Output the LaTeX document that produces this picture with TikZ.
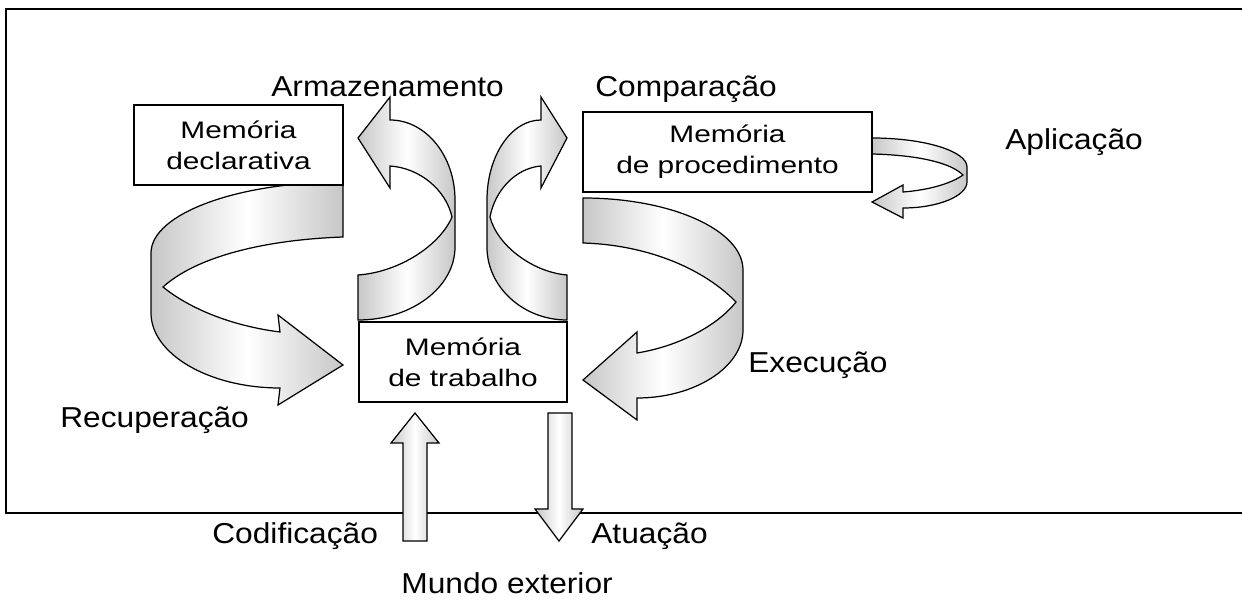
\documentclass[tikz,border=0pt]{standalone}
\usepackage{fontspec}
\setmainfont{Liberation Sans}
\newfontfamily\boxfont[FakeStretch=1.25]{Liberation Sans}
\newfontfamily\lblfont[FakeStretch=1.1]{Liberation Sans}
\usepackage{tikz}

\tikzset{
  memo/.style={draw, line width=0.75pt, fill=white, minimum height=1.6cm, align=center, inner sep=0pt,
    font=\boxfont\fontsize{13.6}{17.8}\selectfont},
  lbl/.style={anchor=base west, inner sep=0pt, font=\lblfont\fontsize{16.4}{20}\selectfont},
  band/.style={draw, line width=0.7pt, left color=black!22, right color=black!22, middle color=white},
  frame/.style={line width=1.15pt}
}

\begin{document}
\begin{tikzpicture}[x=0.02cm,y=-0.02cm]
\useasboundingbox (0,0) rectangle (1242,601);
\draw[frame] (1242,9) -- (6,9) -- (6,513) -- (1242,513);

\draw[band] (343,182) .. controls (237,182) and (151,214) .. (151,253) -- (151,313)
  .. controls (151,354) and (209,388) .. (280,388) -- (278,405) -- (343,365) -- (278,315) -- (280,332)
  .. controls (225,325) and (185,305) .. (163,287) .. controls (195,258) and (260,240) .. (343,237) -- cycle;
\draw[band] (583,198) .. controls (671,198) and (743,230) .. (743,270) -- (743,330)
  .. controls (743,367) and (695,398) .. (637,398) -- (637,420) -- (583,380) -- (637,332) -- (637,353)
  .. controls (680,346) and (718,325) .. (736,302) .. controls (705,270) and (650,245) .. (583,243) -- cycle;
\draw[band] (390,120) .. controls (426,120) and (455,156) .. (455,200) -- (455,247)
  .. controls (455,287) and (412,320) .. (358,320) -- (358,275)
  .. controls (400,272) and (440,245) .. (452,217) .. controls (446,190) and (420,168) .. (390,166)
  -- (390,188) -- (358,138) -- (390,97) -- cycle;
\draw[band] (541,120) .. controls (511,120) and (487,156) .. (487,200) -- (487,247)
  .. controls (487,287) and (523,320) .. (567,320) -- (567,275)
  .. controls (532,272) and (497,245) .. (490,217) .. controls (495,190) and (516,168) .. (541,166)
  -- (541,188) -- (567,138) -- (541,97) -- cycle;
\draw[band] (872,138) .. controls (924,138) and (967,151) .. (967,167) -- (967,182)
  .. controls (967,196) and (938,208) .. (903,208) -- (903,218) -- (872,202) -- (903,185) -- (903,192)
  .. controls (930,190) and (952,183) .. (963,175) .. controls (950,162) and (915,155) .. (872,154) -- cycle;
\draw[band] (403,541) -- (403,443) -- (391,443) -- (415,413) -- (439,443) -- (427,443) -- (427,541) -- cycle;
\draw[band] (548,413) -- (572,413) -- (572,509) -- (583,509) -- (559,541) -- (535,509) -- (548,509) -- cycle;

\node[memo, minimum width=4.18cm] (decl) at (238.5,145) {Memória\\declarativa};
\node[memo, minimum width=5.78cm] (proc) at (727.5,152) {Memória\\de procedimento};
\node[memo, minimum width=4.16cm] (wm) at (463,362) {Memória\\de trabalho};

\node[lbl] (arm) at (271,97) {Armazenamento};
\node[lbl] (cmp) at (595,97) {Comparação};
\node[lbl] (apl) at (1005,150) {Aplicação};
\node[lbl] (exe) at (748,373) {Execução};
\node[lbl] (rec) at (60,428) {Recuperação};
\node[lbl] (cod) at (212,543) {Codificação};
\node[lbl] (atu) at (591,543) {Atuação};
\node[lbl] (mun) at (401,593) {Mundo exterior};
\end{tikzpicture}
\end{document}
